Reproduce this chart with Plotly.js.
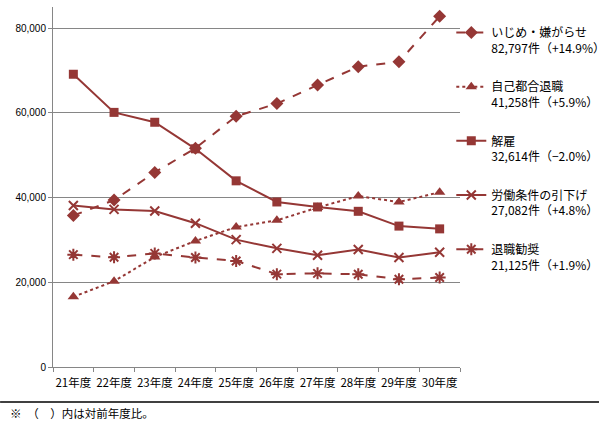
<!DOCTYPE html>
<html><head><meta charset="utf-8">
<script src="https://cdn.plot.ly/plotly-3.0.1.min.js"></script>
<style>html,body{margin:0;padding:0;background:#fff}#chart{width:614px;height:432px}</style>
</head><body><div id="chart"></div>
<script>
const categories = ["21年度","22年度","23年度","24年度","25年度","26年度","27年度","28年度","29年度","30年度"];
const ijime    = [35759, 39405, 45939, 51670, 59197, 62191, 66566, 70917, 72067, 82797];
const jiko     = [16566, 20265, 25966, 29763, 33049, 34626, 37648, 40364, 38954, 41258];
const kaiko    = [69121, 60118, 57785, 51515, 43956, 38966, 37787, 36760, 33269, 32614];
const hikisage = [38131, 37210, 36849, 33955, 30067, 28015, 26392, 27723, 25841, 27082];
const kansho   = [26524, 25902, 26828, 25838, 25041, 21928, 22110, 21891, 20736, 21125];
const names = [
  "いじめ・嫌がらせ<br>82,797件（+14.9%）",
  "自己都合退職<br>41,258件（+5.9%）",
  "解雇<br>32,614件（−2.0%）",
  "労働条件の引下げ<br>27,082件（+4.8%）",
  "退職勧奨<br>21,125件（+1.9%）"
];
const yTicks = [0, 20000, 40000, 60000, 80000];
const yTickText = ["0", "20,000", "40,000", "60,000", "80,000"];
const footnote = "※　（　）内は対前年度比。";

const C = "#953735";
function tr(y, name, dash, sym, size, open, g) {
  const m = {symbol: sym, size: size, color: C};
  if (open) m.line = {color: C, width: 2};
  return {x: categories, y: y, name: name, type: "scatter", mode: "lines+markers",
    line: {color: C, width: 2, dash: dash}, marker: m, legendgroup: g};
}
const data = [
  tr(ijime, names[0], "dash", "diamond", 10, false, "a"),
  tr(jiko, names[1], "dot", "triangle-up", 10, false, "b"),
  tr(kaiko, names[2], "solid", "square", 9, false, "c"),
  tr(hikisage, names[3], "solid", "x-thin-open", 9, true, "d"),
  tr(kansho, names[4], "dash", "asterisk-open", 10, true, "e")
];
const layout = {
  width: 614, height: 432,
  margin: {l: 53, r: 154, t: 7, b: 65, autoexpand: false},
  paper_bgcolor: "#fff", plot_bgcolor: "#fff",
  font: {family: "'Noto Sans CJK JP', sans-serif", color: "#000", size: 11},
  showlegend: true,
  legend: {xref: "container", x: 0.735, xanchor: "left", y: 0.969, yanchor: "top", traceorder: "grouped", valign: "top",
    tracegroupgap: 20, font: {size: 12, family: "'Noto Sans CJK JP', sans-serif"},
    bgcolor: "rgba(0,0,0,0)", itemwidth: 30},
  xaxis: {type: "category", range: [-0.5, 9.5], showline: true, linecolor: "#868686", linewidth: 1,
    ticks: "outside", tickson: "boundaries", ticklen: 4, tickcolor: "#868686", tickangle: 0,
    ticklabelstandoff: 5,
    showgrid: false, zeroline: false, tickfont: {size: 11.5}},
  yaxis: {range: [0, 85000], tickvals: yTicks, ticktext: yTickText, showline: true,
    linecolor: "#868686", linewidth: 1, ticks: "outside", ticklen: 4, tickcolor: "#868686",
    showgrid: true, gridcolor: "#868686", gridwidth: 1, zeroline: false,
    tickfont: {size: 10, family: "Arial, 'Liberation Sans', sans-serif"}},
  shapes: [{type: "line", xref: "paper", yref: "paper", x0: -0.130, x1: 1.3415, y0: -0.0972, y1: -0.0972,
    line: {color: "#000", width: 1.5}}],
  annotations: [{xref: "paper", yref: "paper", x: -0.1106, y: -0.1278, xanchor: "left", yanchor: "middle",
    text: footnote, showarrow: false, font: {size: 11.5}}]
};
Plotly.newPlot("chart", data, layout, {displayModeBar: false, staticPlot: true});
</script></body></html>
